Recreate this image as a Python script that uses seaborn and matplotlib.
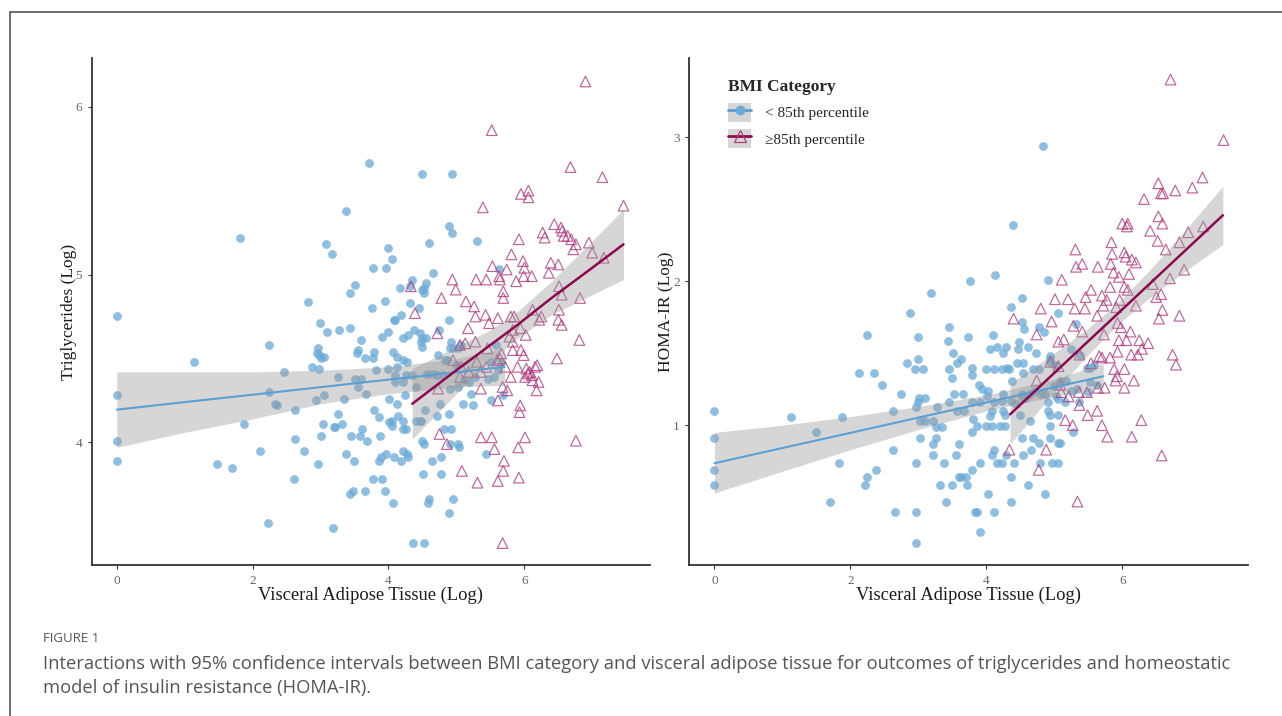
import matplotlib
matplotlib.use('Agg')
import matplotlib.pyplot as plt
from matplotlib.patches import Patch, Rectangle
from matplotlib.lines import Line2D
import seaborn as sns

# ---- data ---------------------------------------------------------------
# Panel A: triglycerides (log) vs visceral adipose tissue (log)
tg_low_x = [3.71, 3.37, 1.82, 3.08, 3.17, 3.51, 3.44, 2.82, 0,
            4.5, 4.93, 4.89, 4.93, 4.60, 5.31, 4.0, 4.05, 3.77, 3.97, 5.63, 4.65, 4.35, 4.55, 4.52,
            4.50, 4.52, 4.17, 4.31, 3.95, 4.32, 4.45, 3.76, 4.19,
            1.13, 2.24, 2.99, 3.09, 3.27, 3.43, 2.96, 2.95, 3.0, 3.05, 2.97, 2.88, 2.98, 3.60, 3.55,
            3.53, 3.65, 2.46, 3.25, 3.50, 3.59, 3.55, 2.24, 2.33, 2.36, 3.05, 2.94, 3.34, 3.67, 2.62,
            3.25, 1.87, 3.03, 3.20, 3.21, 3.31, 3.61, 3.01, 3.45, 3.58, 0, 0, 0, 2.63, 2.11, 2.75,
            3.69, 3.38, 3.49, 1.48, 1.69, 2.96, 2.61, 3.48, 3.44, 3.65, 2.22, 3.19,
            4.08, 4.10, 3.91, 4.0, 4.22, 4.29, 4.38, 4.47, 4.50, 4.55, 4.48, 4.50, 4.74, 4.89, 4.92,
            4.90, 4.95, 5.03, 5.07, 3.78, 3.77, 4.06, 4.13, 4.21, 4.28, 4.13, 3.82, 4.0, 4.10, 4.09,
            4.22, 4.26, 4.73, 4.83, 4.86, 4.99, 4.35, 4.57, 4.65, 4.72, 4.81, 4.90, 5.03, 5.11, 5.18,
            5.28, 5.46, 5.56, 5.61, 5.59, 5.65, 5.51, 4.01, 4.13, 4.25, 4.40, 4.76, 4.54, 4.71, 4.89,
            5.10, 5.24, 5.21, 5.51, 5.69, 3.78, 3.86, 4.05, 4.05, 4.14, 4.22, 4.22, 4.26, 4.40, 4.46,
            4.48, 3.87, 4.01, 4.82, 4.92, 4.50, 4.52, 4.91, 5.02, 5.04, 5.43, 3.89, 3.86, 3.97, 4.08,
            4.21, 4.19, 4.28, 4.29, 4.64, 4.78, 3.77, 3.90, 3.95, 4.51, 4.78, 4.07, 4.60, 4.58, 4.95,
            4.89, 4.36, 4.52]
tg_low_y = [5.665, 5.38, 5.22, 5.18, 5.12, 4.94, 4.89, 4.835, 4.75,
            5.60, 5.60, 5.29, 5.25, 5.19, 5.20, 5.16, 5.09, 5.04, 5.04, 5.03, 5.01, 4.97, 4.95, 4.92,
            4.91, 4.89, 4.92, 4.93, 4.84, 4.83, 4.80, 4.80, 4.76,
            4.48, 4.58, 4.71, 4.66, 4.67, 4.68, 4.56, 4.53, 4.50, 4.51, 4.52, 4.45, 4.44, 4.61, 4.55,
            4.53, 4.50, 4.42, 4.39, 4.38, 4.38, 4.33, 4.30, 4.23, 4.22, 4.28, 4.25, 4.26, 4.29, 4.19,
            4.17, 4.11, 4.11, 4.09, 4.09, 4.11, 4.08, 4.04, 4.04, 4.04, 4.28, 4.01, 3.89, 4.02, 3.95,
            3.95, 4.01, 3.93, 3.89, 3.87, 3.85, 3.87, 3.78, 3.71, 3.69, 3.71, 3.52, 3.49,
            4.73, 4.73, 4.63, 4.66, 4.62, 4.64, 4.67, 4.65, 4.62, 4.62, 4.60, 4.57, 4.67, 4.73, 4.60,
            4.56, 4.56, 4.56, 4.58, 4.54, 4.50, 4.54, 4.51, 4.49, 4.48, 4.45, 4.43, 4.44, 4.40, 4.36,
            4.36, 4.40, 4.52, 4.49, 4.49, 4.46, 4.40, 4.41, 4.41, 4.40, 4.40, 4.32, 4.33, 4.37, 4.36,
            4.39, 4.38, 4.39, 4.43, 4.58, 4.48, 4.48, 4.26, 4.23, 4.28, 4.33, 4.23, 4.19, 4.16, 4.17,
            4.23, 4.22, 4.29, 4.25, 4.28, 4.19, 4.15, 4.13, 4.10, 4.16, 4.13, 4.08, 4.08, 4.13, 4.13,
            4.13, 4.04, 4.12, 4.08, 4.08, 4.01, 3.99, 3.99, 3.99, 3.97, 3.93, 3.91, 3.89, 3.93, 3.91,
            3.95, 3.89, 3.93, 3.91, 3.89, 3.91, 3.78, 3.78, 3.71, 3.81, 3.81, 3.64, 3.66, 3.64, 3.66,
            3.58, 3.40, 3.40]
tg_high_x = [6.90, 5.52, 6.68, 7.15, 5.95, 6.06, 6.06, 7.46, 5.39, 6.44, 6.27, 6.54, 6.56, 6.58,
             6.30, 6.64, 6.69, 6.76, 6.72, 6.95, 7.0, 7.17, 5.92, 5.81, 5.98, 6.0, 5.74, 5.53, 6.39,
             6.5, 6.36, 5.99, 6.11, 5.88, 5.63, 5.64, 5.44, 5.29, 4.94, 4.99, 5.69, 5.69, 4.78, 5.14,
             5.26, 6.51, 6.55, 6.82, 6.51, 6.12, 4.39, 4.33,
             4.72, 5.28, 5.43, 5.61, 5.48, 5.17, 5.80, 5.85, 6.25, 6.22, 6.50, 6.55, 5.83, 5.94, 6.02,
             5.28, 5.05, 5.13, 5.78, 5.83, 5.95, 5.99, 5.83, 5.66, 5.64, 5.60, 5.72, 5.46, 4.95, 5.07,
             5.18, 5.05, 5.36, 5.44, 5.90, 6.03, 6.05, 6.16, 6.19, 6.08, 6.11, 6.01, 6.12, 6.21, 6.18,
             5.80, 6.48, 6.81, 5.30, 5.68, 5.75, 5.36, 5.61, 4.73, 5.94, 5.93, 4.75, 4.86, 5.36, 5.52,
             5.56, 5.91, 6.01, 6.76, 5.70, 5.69, 5.08, 5.31, 5.61, 5.92, 5.68]
tg_high_y = [6.15, 5.86, 5.64, 5.58, 5.48, 5.50, 5.46, 5.41, 5.40, 5.30, 5.25, 5.28, 5.26, 5.23,
             5.22, 5.23, 5.21, 5.18, 5.15, 5.19, 5.13, 5.10, 5.21, 5.12, 5.08, 5.04, 5.03, 5.05, 5.07,
             5.06, 5.01, 4.99, 4.99, 4.96, 4.99, 4.97, 4.97, 4.97, 4.97, 4.91, 4.90, 4.86, 4.86, 4.84,
             4.81, 4.93, 4.88, 4.86, 4.79, 4.79, 4.77, 4.93,
             4.65, 4.75, 4.76, 4.74, 4.71, 4.68, 4.75, 4.75, 4.75, 4.73, 4.73, 4.70, 4.67, 4.68, 4.64,
             4.60, 4.58, 4.59, 4.63, 4.60, 4.55, 4.52, 4.55, 4.53, 4.50, 4.49, 4.45, 4.56, 4.49, 4.45,
             4.42, 4.39, 4.42, 4.45, 4.45, 4.44, 4.41, 4.45, 4.46, 4.42, 4.40, 4.39, 4.37, 4.36, 4.31,
             4.39, 4.50, 4.61, 4.48, 4.33, 4.31, 4.32, 4.25, 4.32, 4.22, 4.18, 4.05, 3.99, 4.03, 4.03,
             3.96, 3.97, 4.03, 4.01, 3.89, 3.83, 3.83, 3.76, 3.77, 3.79, 3.40]

# fitted lines and 95% CI bands
tg_fit_low_x = [0, 1, 2, 3, 4, 5, 5.71]
tg_fit_low_y = [4.195, 4.24, 4.284, 4.329, 4.374, 4.418, 4.45]
tg_fit_low_lo = [3.97, 4.06, 4.14, 4.23, 4.29, 4.33, 4.34]
tg_fit_low_hi = [4.42, 4.42, 4.42, 4.43, 4.45, 4.50, 4.56]
tg_fit_high_x = [4.35, 5.0, 5.5, 5.9, 6.4, 7.0, 7.46]
tg_fit_high_y = [4.23, 4.43, 4.58, 4.70, 4.86, 5.04, 5.18]
tg_fit_high_lo = [4.02, 4.29, 4.49, 4.62, 4.76, 4.88, 4.97]
tg_fit_high_hi = [4.44, 4.57, 4.67, 4.78, 4.96, 5.20, 5.39]

# Panel B: HOMA-IR (log) vs visceral adipose tissue (log)
homa_low_x = [3.18, 2.88, 3.76, 4.84, 4.39, 4.12, 4.90, 4.52, 4.37, 5.06,
              2.25, 3.45, 3.0, 3.44, 3.73, 2.99, 3.51, 3.63, 3.57, 2.83, 2.95, 3.07, 3.45, 3.50,
              2.12, 2.34, 2.47, 2.75, 3.01, 3.09, 3.0, 2.97, 2.62, 3.45, 3.52, 3.66, 3.28, 3.57, 3.67,
              0, 1.13, 1.88, 1.49, 0, 3.03, 3.10, 3.21, 3.26, 3.35, 3.02, 3.26, 3.21, 3.60, 2.63,
              3.55, 3.22, 2.97, 3.38, 0, 0, 1.83, 2.37, 2.25, 2.22, 3.60, 3.63, 3.70, 3.32, 3.50,
              3.71, 3.40, 1.70, 2.65, 2.97, 2.96,
              4.52, 4.56, 4.77, 4.85, 5.32, 4.10, 4.15, 4.06, 4.29, 4.25, 4.48, 4.62, 4.73, 4.47, 4.94,
              4.93, 5.24, 3.79, 4.0, 4.11, 4.23, 4.31, 4.34, 4.45, 4.54, 4.38, 4.54, 4.68, 4.77, 4.93,
              5.01, 5.38, 5.48, 5.53, 5.59, 3.79, 3.89, 3.94, 4.03, 4.01, 4.25, 4.37, 4.53, 4.64, 4.71,
              4.80, 4.87, 4.99, 5.08, 5.17, 5.03, 5.24, 5.34, 5.49, 5.63, 5.53, 3.79, 3.91, 4.11, 4.23,
              4.43, 4.52, 4.57, 4.91, 5.06, 5.16, 5.36, 3.79, 3.86, 3.99, 4.09, 4.20, 4.27, 4.05, 4.25,
              4.28, 4.50, 4.64, 4.90, 4.94, 5.05, 4.93, 5.27, 3.81, 4.08, 4.52, 4.68, 4.77, 4.93, 4.66,
              4.54, 4.11, 4.09, 4.15, 4.23, 4.29, 4.41, 4.79, 4.97, 5.05, 5.05, 5.09, 3.79, 3.91, 4.36,
              4.61, 4.87, 4.03, 4.37, 3.84, 3.86, 4.11, 3.90]
homa_low_y = [1.915, 1.78, 2.0, 2.94, 2.39, 2.04, 2.01, 1.88, 1.82, 1.78,
              1.625, 1.68, 1.61, 1.585, 1.61, 1.46, 1.50, 1.46, 1.43, 1.43, 1.39, 1.39, 1.39, 1.33,
              1.36, 1.36, 1.28, 1.22, 1.19, 1.19, 1.16, 1.13, 1.10, 1.16, 1.22, 1.22, 1.13, 1.10, 1.10,
              1.10, 1.06, 1.06, 0.95, 0.91, 1.03, 1.03, 1.03, 0.99, 0.99, 0.91, 0.91, 0.87, 0.87, 0.83,
              0.79, 0.79, 0.74, 0.74, 0.69, 0.585, 0.74, 0.69, 0.64, 0.585, 0.64, 0.64, 0.64, 0.585,
              0.585, 0.585, 0.47, 0.47, 0.40, 0.40, 0.18,
              1.72, 1.67, 1.68, 1.65, 1.70, 1.625, 1.54, 1.53, 1.54, 1.50, 1.58, 1.54, 1.50, 1.53, 1.48,
              1.46, 1.53, 1.40, 1.39, 1.39, 1.39, 1.40, 1.39, 1.43, 1.435, 1.31, 1.36, 1.39, 1.39, 1.44,
              1.42, 1.49, 1.40, 1.40, 1.42, 1.35, 1.28, 1.255, 1.24, 1.20, 1.22, 1.17, 1.22, 1.22, 1.24,
              1.22, 1.22, 1.27, 1.31, 1.31, 1.20, 1.24, 1.25, 1.23, 1.28, 1.30, 1.16, 1.16, 1.16, 1.17,
              1.15, 1.20, 1.19, 1.16, 1.18, 1.16, 1.16, 0.95, 0.995, 0.995, 0.995, 0.995, 0.995, 1.065,
              1.10, 1.07, 1.07, 1.03, 1.10, 1.07, 1.07, 0.995, 0.95, 1.04, 1.10, 0.91, 0.91, 0.88, 0.91,
              0.83, 0.79, 0.83, 0.79, 0.74, 0.74, 0.79, 0.74, 0.74, 0.74, 0.74, 0.88, 0.88, 0.69, 0.74,
              0.64, 0.585, 0.52, 0.525, 0.47, 0.40, 0.40, 0.40, 0.26]
homa_high_x = [6.71, 7.49, 6.53, 6.60, 6.57, 6.78, 7.03, 7.18, 6.32, 6.53, 6.59, 6.41, 6.52, 6.0,
               6.08, 6.07, 7.19, 6.97, 6.84, 6.64, 6.91, 6.70, 5.31, 5.84, 5.85, 5.83, 6.03, 6.05,
               6.14, 6.20, 5.87, 5.95, 6.10, 5.64, 5.41, 5.32, 5.11, 5.82, 6.03, 6.08, 6.45, 5.54,
               5.46, 5.70, 5.77, 5.20, 5.01, 4.80, 5.30, 5.45, 5.96, 6.20, 6.50, 6.57, 6.59, 5.72,
               4.40, 4.96, 5.63, 5.91, 6.54, 6.84, 5.28, 5.41, 4.74, 5.06, 5.14, 5.73, 5.93, 5.98,
               5.95, 6.06, 6.12, 6.25, 6.38, 6.29, 5.93, 5.37, 5.82, 5.66, 5.70, 6.13, 6.23, 6.74,
               6.79, 4.94, 5.06, 5.88, 6.03, 5.54, 5.92, 5.90, 6.03, 6.17, 4.74, 5.09, 5.10, 5.21,
               5.36, 5.48, 5.64, 5.74, 5.37, 5.49, 5.63, 5.70, 5.78, 6.14, 6.28, 5.16, 5.27, 6.58,
               4.34, 4.88, 4.77, 5.34]
homa_high_y = [3.40, 2.98, 2.68, 2.61, 2.61, 2.63, 2.65, 2.72, 2.57, 2.45, 2.40, 2.35, 2.28, 2.40,
               2.40, 2.38, 2.38, 2.34, 2.27, 2.22, 2.08, 2.02, 2.22, 2.27, 2.19, 2.12, 2.20, 2.17,
               2.15, 2.13, 2.06, 2.03, 2.05, 2.10, 2.12, 2.10, 2.01, 1.96, 1.96, 1.94, 1.98, 1.94,
               1.89, 1.90, 1.87, 1.875, 1.875, 1.81, 1.81, 1.81, 1.87, 1.83, 1.89, 1.91, 1.80, 1.83,
               1.74, 1.72, 1.76, 1.82, 1.74, 1.76, 1.69, 1.65, 1.63, 1.58, 1.595, 1.63, 1.71, 1.68,
               1.59, 1.59, 1.65, 1.59, 1.57, 1.53, 1.51, 1.49, 1.47, 1.48, 1.47, 1.49, 1.49, 1.49,
               1.42, 1.44, 1.41, 1.39, 1.39, 1.43, 1.34, 1.31, 1.26, 1.31, 1.31, 1.28, 1.23, 1.20,
               1.23, 1.23, 1.26, 1.26, 1.14, 1.07, 1.10, 1.0, 0.92, 0.92, 1.035, 1.035, 1.0, 0.79,
               0.83, 0.83, 0.69, 0.47]

homa_fit_low_x = [0, 1, 2, 3, 4, 5, 5.72]
homa_fit_low_y = [0.736, 0.842, 0.947, 1.053, 1.158, 1.264, 1.34]
homa_fit_low_lo = [0.53, 0.68, 0.83, 0.97, 1.10, 1.20, 1.26]
homa_fit_low_hi = [0.95, 1.00, 1.06, 1.13, 1.21, 1.32, 1.43]
homa_fit_high_x = [4.35, 5.0, 5.5, 5.9, 6.4, 7.0, 7.48]
homa_fit_high_y = [1.076, 1.363, 1.584, 1.76, 1.981, 2.246, 2.458]
homa_fit_high_lo = [0.87, 1.23, 1.49, 1.685, 1.885, 2.095, 2.255]
homa_fit_high_hi = [1.29, 1.50, 1.675, 1.835, 2.075, 2.395, 2.66]

group_labels = ['< 85th percentile', '\u226585th percentile']

# ---- styling ------------------------------------------------------------
BLUE_PT = '#6aaad6'
BLUE_LN = '#5b9fd3'
PINK_PT = '#b23b7e'
PINK_LN = '#8c0a4e'
BAND = '#999999'

sns.set_theme(style='white')
plt.rcParams['font.family'] = ['Liberation Serif', 'DejaVu Serif']

fig = plt.figure(figsize=(12.82, 7.16), dpi=100)
ax1 = fig.add_axes([0.0715, 0.211, 0.4355, 0.708])
ax2 = fig.add_axes([0.5377, 0.211, 0.4358, 0.708])


def draw_panel(ax, lx, ly, hx, hy, fl, fh, ylabel, yticks, ylim):
    sns.scatterplot(x=lx, y=ly, ax=ax, color=BLUE_PT, s=40, alpha=0.75,
                    linewidth=0, zorder=2)
    sns.scatterplot(x=hx, y=hy, ax=ax, marker='^', s=58, color=PINK_PT,
                    facecolor='none', edgecolor=PINK_PT, linewidth=0.85,
                    alpha=0.8, zorder=2)
    for (fx, fy, lo, hi), col in ((fl, BLUE_LN), (fh, PINK_LN)):
        ax.fill_between(fx, lo, hi, color=BAND, alpha=0.4, linewidth=0, zorder=3)
        sns.lineplot(x=fx, y=fy, ax=ax, color=col, linewidth=1.8 if col == PINK_LN else 1.5,
                     zorder=4)
    ax.set_xlim(-0.37, 7.85)
    ax.set_ylim(*ylim)
    ax.set_xticks([0, 2, 4, 6])
    ax.set_yticks(yticks)
    ax.set_xlabel('Visceral Adipose Tissue (Log)', fontsize=13.3, color='#1a1a1a', labelpad=0)
    ax.set_ylabel(ylabel, fontsize=12.5, color='#1a1a1a', labelpad=-1)
    ax.tick_params(axis='both', which='both', length=3, width=0.8, color='#333333',
                   labelcolor='#666666', labelsize=9.5, pad=4, direction='out')
    ax.tick_params(left=True, bottom=True)
    for side in ('top', 'right'):
        ax.spines[side].set_visible(False)
    for side in ('left', 'bottom'):
        ax.spines[side].set_color('#333333')
        ax.spines[side].set_linewidth(1.3)


draw_panel(ax1, tg_low_x, tg_low_y, tg_high_x, tg_high_y,
           (tg_fit_low_x, tg_fit_low_y, tg_fit_low_lo, tg_fit_low_hi),
           (tg_fit_high_x, tg_fit_high_y, tg_fit_high_lo, tg_fit_high_hi),
           'Triglycerides (Log)', [4, 5, 6], (3.27, 6.29))
draw_panel(ax2, homa_low_x, homa_low_y, homa_high_x, homa_high_y,
           (homa_fit_low_x, homa_fit_low_y, homa_fit_low_lo, homa_fit_low_hi),
           (homa_fit_high_x, homa_fit_high_y, homa_fit_high_lo, homa_fit_high_hi),
           'HOMA-IR (Log)', [1, 2, 3], (0.03, 3.55))

# legend
h_low = (Patch(facecolor='#d6d6d6', edgecolor='none'),
         Line2D([], [], color=BLUE_LN, lw=2, marker='o', markersize=7,
                markerfacecolor=BLUE_PT, markeredgewidth=0))
h_high = (Patch(facecolor='#d6d6d6', edgecolor='none'),
          Line2D([], [], color=PINK_LN, lw=2, marker='^', markersize=8,
                 markerfacecolor='none', markeredgecolor=PINK_PT, markeredgewidth=0.9))
leg = ax2.legend([h_low, h_high], group_labels, title='BMI Category',
                 loc='upper left', bbox_to_anchor=(0.045, 0.985), frameon=False,
                 fontsize=11, title_fontsize=12.5, handlelength=1.5, handleheight=1.5,
                 labelspacing=0.5, handletextpad=0.9, alignment='left')
leg.get_title().set_fontweight('bold')

# outer frame and caption
fig.add_artist(Rectangle((0.008, -0.1), 1.2, 1.083, transform=fig.transFigure,
                         fill=False, edgecolor='#555555', linewidth=1.2))
cap_font = ['Open Sans', 'DejaVu Sans']
fig.text(0.0335, 0.104, 'FIGURE 1', fontsize=9.5, color='#555555', family=cap_font)
fig.text(0.0335, 0.066,
         'Interactions with 95% confidence intervals between BMI category and visceral adipose '
         'tissue for outcomes of triglycerides and homeostatic',
         fontsize=13.2, color='#555555', family=cap_font)
fig.text(0.0335, 0.032, 'model of insulin resistance (HOMA-IR).',
         fontsize=13.2, color='#555555', family=cap_font)

fig.savefig('out.png', dpi=100, facecolor='white')
